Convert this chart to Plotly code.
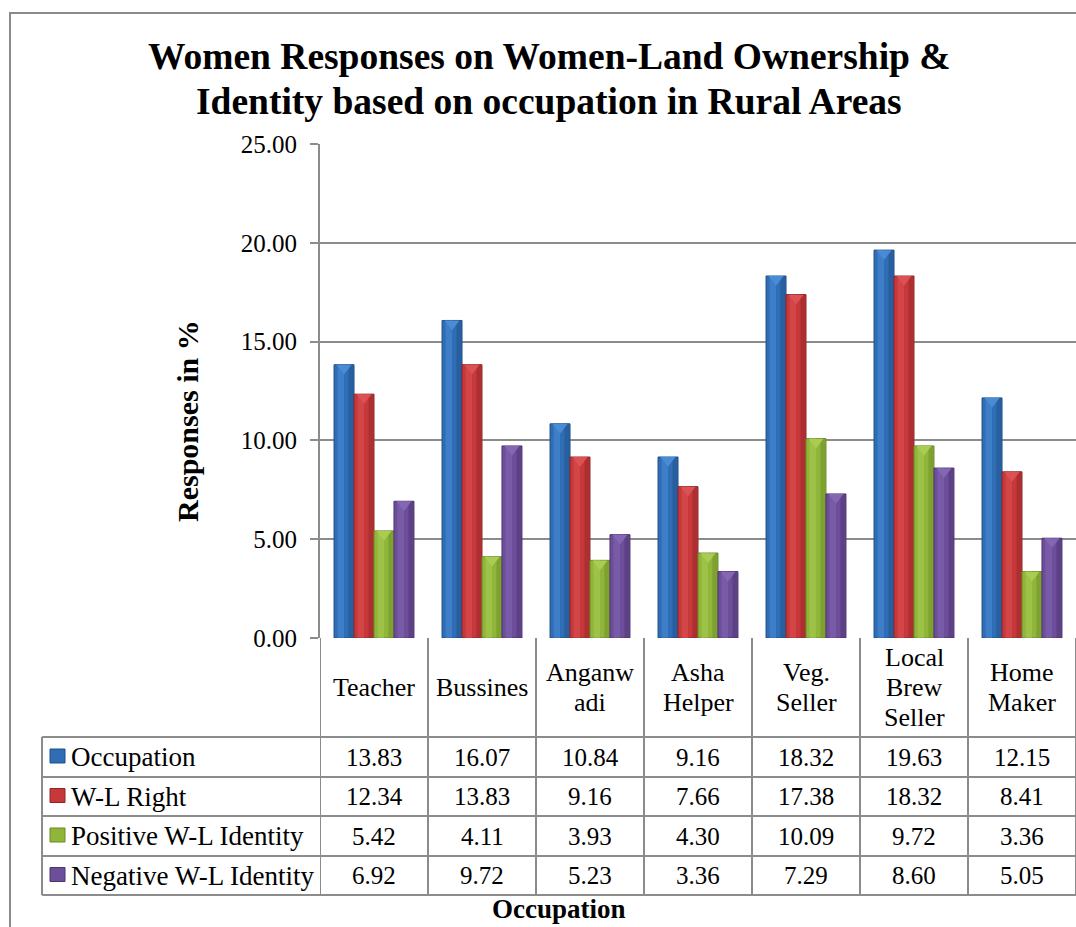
import plotly.graph_objects as go

# Survey data: share of responses (%) by occupation
categories = ["Teacher", "Bussines", "Anganwadi", "Asha Helper", "Veg. Seller",
              "Local Brew Seller", "Home Maker"]
category_labels = ["Teacher", "Bussines", "Anganw<br>adi", "Asha<br>Helper", "Veg.<br>Seller",
                   "Local<br>Brew<br>Seller", "Home<br>Maker"]
occupation = [13.83, 16.07, 10.84, 9.16, 18.32, 19.63, 12.15]
wl_right = [12.34, 13.83, 9.16, 7.66, 17.38, 18.32, 8.41]
positive_identity = [5.42, 4.11, 3.93, 4.30, 10.09, 9.72, 3.36]
negative_identity = [6.92, 9.72, 5.23, 3.36, 7.29, 8.60, 5.05]
y_ticks = [0, 5, 10, 15, 20, 25]

# name, values, base colour, highlight colour, shade colour
series = [
    ("Occupation", occupation, "#2F6DB5", "#4A8BD6", "#1F4E86"),
    ("W-L Right", wl_right, "#C6383A", "#DC5254", "#8E2628"),
    ("Positive W-L Identity", positive_identity, "#8FB53A", "#A9CC52", "#6A8A25"),
    ("Negative W-L Identity", negative_identity, "#6C4E9A", "#8466B2", "#4C3470"),
]

W, H = 1076, 927
L, R, T, B = 320, 0, 144, 289
PW = W - L - R
PH = H - T - B
FONT = "Liberation Serif"
FS = 25


def px(xpix):
    return (xpix - L) / PW


def py(ypix):
    return (H - B - ypix) / PH


fig = go.Figure()
xs = list(range(len(categories)))
BW = 0.185          # width of one bar in category units
G0 = -2 * BW        # left edge of each group relative to the category centre
for k, (name, vals, color, light, dark) in enumerate(series):
    off = G0 + k * BW
    # body of the bar
    fig.add_trace(go.Bar(x=xs, y=vals, name=name, offset=off, width=BW,
                         marker=dict(color=color, line=dict(color=dark, width=1)),
                         showlegend=False, hoverinfo="y+name"))
    # soft highlight strip for a rounded look
    fig.add_trace(go.Bar(x=xs, y=vals, offset=off + BW * 0.18, width=BW * 0.32,
                         marker=dict(color=light, opacity=0.55, line=dict(width=0)),
                         showlegend=False, hoverinfo="skip"))
    # darker strip along the right side
    fig.add_trace(go.Bar(x=xs, y=vals, offset=off + BW * 0.72, width=BW * 0.24,
                         marker=dict(color=dark, opacity=0.45, line=dict(width=0)),
                         showlegend=False, hoverinfo="skip"))
    # bevel cap on top of each bar
    fig.add_trace(go.Scatter(x=[i + off + BW / 2 for i in xs], y=[v - 0.17 for v in vals],
                             mode="markers",
                             marker=dict(symbol="triangle-down", size=13, color=light,
                                         line=dict(width=0)),
                             showlegend=False, hoverinfo="skip"))

shapes = []
annotations = []
GRID = "#8C8C8C"

# table geometry (pixel rows)
header_top, header_bot = 638, 737
row_lines = [737, 777, 816, 856, 895]
legend_left = 42

for i in range(len(categories) + 1):
    shapes.append(dict(type="line", xref="x", yref="paper",
                       x0=i - 0.5, x1=i - 0.5, y0=py(header_top), y1=py(row_lines[-1]),
                       line=dict(color=GRID, width=2)))
shapes.append(dict(type="line", xref="paper", yref="paper",
                   x0=px(legend_left), x1=px(legend_left), y0=py(row_lines[0]), y1=py(row_lines[-1]),
                   line=dict(color=GRID, width=2)))
for yl in row_lines:
    shapes.append(dict(type="line", xref="paper", yref="paper",
                       x0=px(legend_left), x1=1.0, y0=py(yl), y1=py(yl),
                       line=dict(color=GRID, width=2)))


def text(x, y, s, size=FS, xref="paper", xanchor="center", bold=False, angle=0):
    annotations.append(dict(x=x, y=y, xref=xref, yref="paper", text=f"<b>{s}</b>" if bold else s,
                            showarrow=False, xanchor=xanchor, yanchor="middle", textangle=angle,
                            font=dict(family=FONT, size=size, color="#000")))


# category header labels, one annotation per line for tight spacing
LINE = 30
for i, lab in enumerate(category_labels):
    parts = lab.split("<br>")
    yc = (header_top + header_bot) / 2
    for j, part in enumerate(parts):
        text(i, py(yc + (j - (len(parts) - 1) / 2) * LINE), part, xref="x", size=26)

# data rows with legend keys
for r, (name, vals, color, light, dark) in enumerate(series):
    yc = (row_lines[r] + row_lines[r + 1]) / 2
    for i, v in enumerate(vals):
        text(i, py(yc), f"{v:.2f}", xref="x")
    text(px(69), py(yc), name, size=27, xanchor="left")
    shapes.append(dict(type="rect", xref="paper", yref="paper",
                       x0=px(50), x1=px(65), y0=py(yc + 6), y1=py(yc - 8),
                       fillcolor=color, line=dict(color=dark, width=1)))

# axis title under the table
text(0.5 * (px(legend_left) + 1.0), py(909), "Occupation", size=27, bold=True)

# chart title
text(px(549), py(56), "Women Responses on Women-Land Ownership &", size=37.5, bold=True)
text(px(549), py(102), "Identity based on occupation in Rural Areas", size=37.5, bold=True)

# y-axis title
text(px(187), py(421), "Responses in %", size=30, bold=True, angle=-90)

# outer chart frame
shapes.append(dict(type="rect", xref="paper", yref="paper",
                   x0=px(10), x1=px(1090), y0=py(13), y1=py(940),
                   line=dict(color="#8A8A8A", width=2), fillcolor="rgba(0,0,0,0)", layer="below"))

fig.update_layout(
    width=W, height=H,
    margin=dict(l=L, r=R, t=T, b=B),
    paper_bgcolor="white", plot_bgcolor="white",
    barmode="overlay",
    shapes=shapes, annotations=annotations,
    font=dict(family=FONT, size=FS, color="#000"),
)
fig.update_xaxes(range=[-0.5, len(categories) - 0.5], showticklabels=False,
                 showgrid=False, zeroline=False, showline=False, ticks="")
fig.update_yaxes(range=[0, 25], tickvals=y_ticks, ticktext=[f"{t:.2f}" for t in y_ticks],
                 showgrid=True, gridcolor=GRID, gridwidth=2, zeroline=False,
                 showline=True, linecolor=GRID, linewidth=2,
                 ticks="outside", ticklen=8, tickcolor=GRID, tickwidth=2,
                 ticklabelstandoff=8,
                 tickfont=dict(family=FONT, size=FS, color="#000"))

fig.write_html("out.html")
